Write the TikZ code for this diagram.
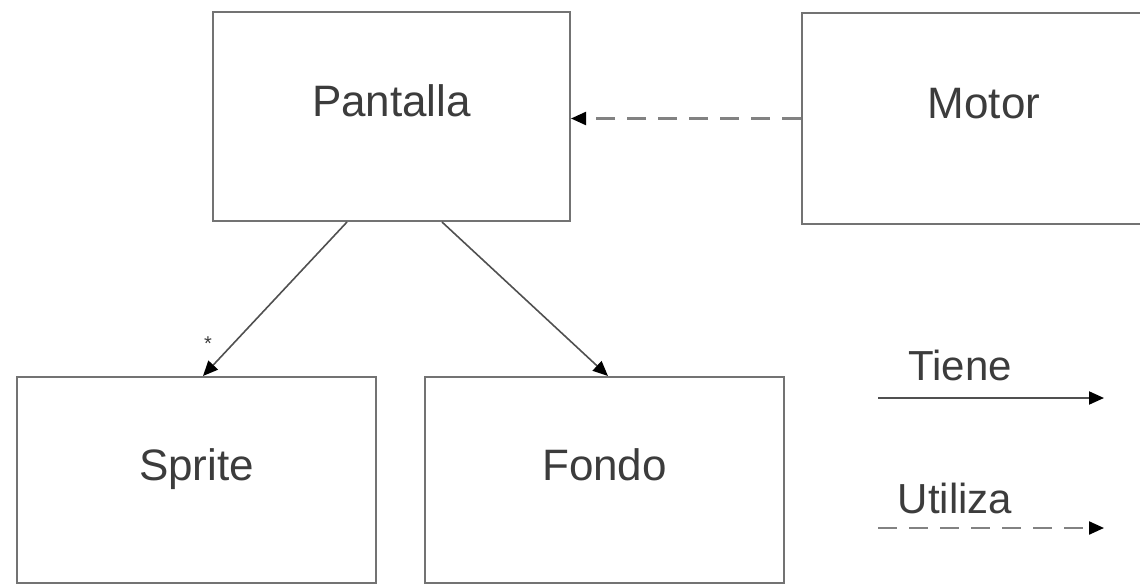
\documentclass[tikz,border=0pt]{standalone}
\usepackage{fontspec}
\setmainfont{Liberation Sans}
\usetikzlibrary{positioning, arrows.meta}
\definecolor{boxgray}{RGB}{115,115,115}
\definecolor{linegray}{RGB}{80,80,80}
\definecolor{dashgray}{RGB}{130,130,130}
\definecolor{txtgray}{RGB}{60,60,60}

\begin{document}
\begin{tikzpicture}[x=0.5pt, y=-0.5pt,
    every node/.style={font=\fontsize{22}{26}\selectfont, text=txtgray},
    clase/.style={draw=boxgray, line width=1pt, text height=14pt, text depth=14pt},
    tiene/.style={draw=linegray, line width=0.8pt, -{Triangle[length=7.5pt, width=6.5pt, color=black]}},
    utiliza/.style={draw=dashgray, line width=1.1pt, dash pattern=on 9.5pt off 6pt, -{Triangle[length=7.5pt, width=6.5pt, color=black]}}]
    % Ukuran kotak
    \def\w{179.5pt}
    \def\h{103pt}

    % area gambar
    \clip (0,0) rectangle (1140,584);

    % kelas
    \node[clase, minimum width=178.5pt, minimum height=104.5pt] (pantalla) at (391.5,116.5) {Pantalla};
    \node[clase, minimum width=182pt, minimum height=105.5pt] (motor) at (984,118.5) {Motor};
    \node[clase, minimum width=\w, minimum height=\h] (sprite) at (196.5,480) {Sprite};
    \node[clase, minimum width=\w, minimum height=\h] (fondo) at (604.5,480) {Fondo};

    % relasi
    \draw[tiene] ([xshift=-22.25pt]pantalla.south) -- ([xshift=3.25pt]sprite.north);
    \draw[tiene] ([xshift=25.25pt]pantalla.south) -- ([xshift=1.75pt]fondo.north);
    \draw[utiliza] (motor.west) -- (motor.west -| pantalla.east);
    \node[font=\fontsize{10}{12}\selectfont] (mult) at ([xshift=5.75pt, yshift=16pt]sprite.north) {*};

    % legenda
    \coordinate (tieneA) at (878,398);
    \coordinate (tieneB) at (1104,398);
    \draw[tiene, line width=1pt] (tieneA) -- (tieneB);
    \node[anchor=base, font=\fontsize{21}{25}\selectfont] (tieneLbl) at (960,380) {Tiene};
    \coordinate (utilizaA) at (878,528);
    \coordinate (utilizaB) at (1104,528);
    \draw[utiliza] (utilizaA) -- (utilizaB);
    \node[anchor=base, font=\fontsize{21}{25}\selectfont] (utilizaLbl) at (955,513) {Utiliza};
\end{tikzpicture}
\end{document}
